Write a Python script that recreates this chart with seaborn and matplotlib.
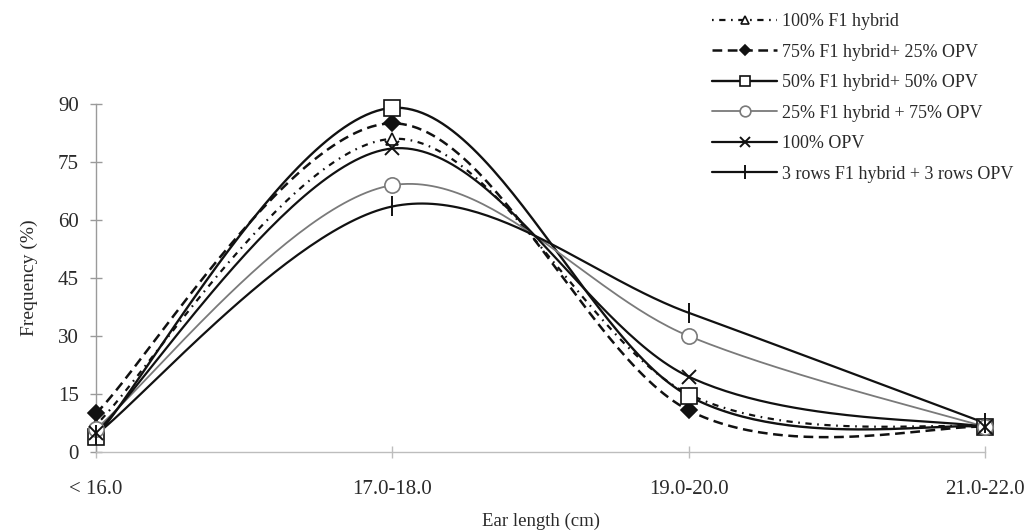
import numpy as np
import pandas as pd
import matplotlib
matplotlib.use("Agg")
import matplotlib.pyplot as plt
from matplotlib.lines import Line2D
import seaborn as sns

# ---- data ----
categories = ["< 16.0", "17.0-18.0", "19.0-20.0", "21.0-22.0"]
series_names = [
    "100% F1 hybrid",
    "75% F1 hybrid+ 25% OPV",
    "50% F1 hybrid+ 50% OPV",
    "25% F1 hybrid + 75% OPV",
    "100% OPV",
    "3 rows F1 hybrid + 3 rows OPV",
]
f1_100 = [7.0, 81.0, 15.0, 6.5]
f1_75 = [10.0, 85.0, 10.8, 6.5]
f1_50 = [4.0, 89.0, 14.5, 6.5]
f1_25 = [6.0, 69.0, 30.0, 6.5]
opv_100 = [5.0, 78.5, 19.5, 6.5]
rows_3_3 = [4.5, 63.5, 36.0, 7.5]
yticks = [0, 15, 30, 45, 60, 75, 90]

values = [f1_100, f1_75, f1_50, f1_25, opv_100, rows_3_3]

# ---- styles ----
styles = [
    dict(color="#111111", lw=1.6, dashes=(1.2, 4.0, 4.5, 4.0), marker="^", mfc="white", ms=9),
    dict(color="#111111", lw=1.8, dashes=(7.0, 4.0), marker="D", mfc="#111111", ms=8),
    dict(color="#111111", lw=1.7, dashes=None, marker="s", mfc="white", ms=11),
    dict(color="#7a7a7a", lw=1.3, dashes=None, marker="o", mfc="white", ms=11),
    dict(color="#111111", lw=1.6, dashes=None, marker="x", mfc="white", ms=10),
    dict(color="#111111", lw=1.6, dashes=None, marker="|", mfc="white", ms=14),
]


def smooth_curve(ys, n=60):
    """Excel-like smoothed line (Bezier through points, tension 1/6)."""
    xs = np.arange(len(ys), dtype=float)
    ys = np.asarray(ys, dtype=float)
    px = np.concatenate([[xs[0]], xs, [xs[-1]]])
    py = np.concatenate([[ys[0]], ys, [ys[-1]]])
    out_x, out_y = [], []
    t = np.linspace(0, 1, n)
    for i in range(1, len(xs)):
        p0 = np.array([px[i], py[i]])
        p3 = np.array([px[i + 1], py[i + 1]])
        c1 = p0 + (np.array([px[i + 1], py[i + 1]]) - np.array([px[i - 1], py[i - 1]])) / 6.0
        c2 = p3 - (np.array([px[i + 2], py[i + 2]]) - np.array([px[i], py[i]])) / 6.0
        bx = (1 - t) ** 3 * p0[0] + 3 * (1 - t) ** 2 * t * c1[0] + 3 * (1 - t) * t ** 2 * c2[0] + t ** 3 * p3[0]
        by = (1 - t) ** 3 * p0[1] + 3 * (1 - t) ** 2 * t * c1[1] + 3 * (1 - t) * t ** 2 * c2[1] + t ** 3 * p3[1]
        out_x.extend(bx)
        out_y.extend(by)
    return np.array(out_x), np.array(out_y)


sns.set_theme(style="white")
plt.rcParams["font.family"] = ["Liberation Serif", "DejaVu Serif"]
plt.rcParams["lines.scale_dashes"] = False

fig = plt.figure(figsize=(10.36, 5.31), dpi=100)
ax = fig.add_axes([96 / 1036, 1 - 452 / 531, (985 - 96) / 1036, (452 - 104) / 531])

handles = []
for name, vals, st in zip(series_names, values, styles):
    sx, sy = smooth_curve(vals)
    df = pd.DataFrame({"x": sx, "y": sy})
    sns.lineplot(data=df, x="x", y="y", ax=ax, estimator=None, sort=False,
                 color=st["color"], lw=st["lw"], legend=False, clip_on=False)
    ln = ax.lines[-1]
    if st["dashes"] is not None:
        ln.set_dashes(st["dashes"])
    mew = 1.4 if st["marker"] in ("x", "|") else 1.2
    ax.plot(np.arange(len(vals)), vals, linestyle="none", marker=st["marker"],
            ms=st["ms"], mfc=st["mfc"], mec=st["color"], mew=mew, clip_on=False, zorder=5)
    h = Line2D([], [], color=st["color"], lw=st["lw"], marker=st["marker"],
               ms=st["ms"] * 0.7, mfc=st["mfc"], mec=st["color"], mew=mew)
    if st["dashes"] is not None:
        h.set_dashes(st["dashes"])
    handles.append(h)

ax.set_xlim(0, 3)
ax.set_ylim(0, 90)
ax.set_xticks(range(len(categories)))
ax.set_xticklabels(categories)
ax.set_yticks(yticks)
ax.set_yticklabels([str(v) for v in yticks])

for s in ["top", "right"]:
    ax.spines[s].set_visible(False)
ax.spines["left"].set_color("#9a9a9a")
ax.spines["left"].set_linewidth(1.0)
ax.spines["bottom"].set_color("#bdbdbd")
ax.spines["bottom"].set_linewidth(1.0)

ax.tick_params(axis="y", direction="inout", length=9, width=1.0, color="#9a9a9a",
               labelsize=15, labelcolor="#2a2a2a", pad=8, left=True)
ax.tick_params(axis="x", direction="inout", length=8, width=1.0, color="#bdbdbd",
               labelsize=15, labelcolor="#2a2a2a", pad=16, bottom=True)

ax.set_xlabel("Ear length (cm)", fontsize=13.5, color="#2a2a2a", labelpad=10)
ax.set_ylabel("Frequency (%)", fontsize=14, color="#2a2a2a", labelpad=14)

fig.legend(handles, series_names, loc="upper left",
           bbox_to_anchor=(712 / 1036, 1 - 13 / 531), frameon=False,
           fontsize=13, handlelength=3.6, handletextpad=0.25, labelspacing=0.75,
           borderpad=0, borderaxespad=0, labelcolor="#2a2a2a")

fig.savefig("out.png", dpi=100, facecolor="white")
